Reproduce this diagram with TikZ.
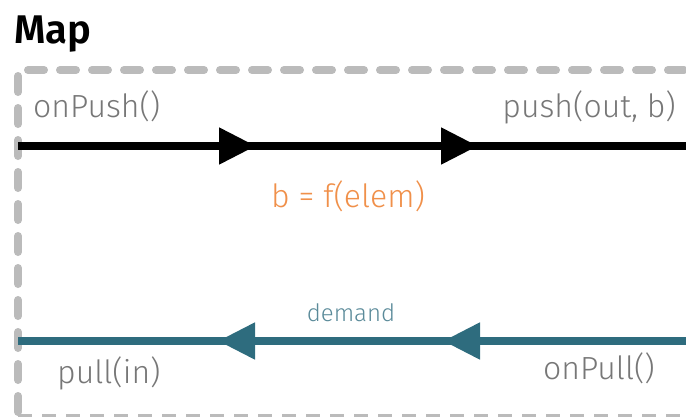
\documentclass[tikz,border=0pt]{standalone}
\usepackage{fontspec}
\setmainfont{Fira Sans}[UprightFont={* Light}, BoldFont={* SemiBold}]
\usetikzlibrary{arrows.meta}
\definecolor{boxgray}{HTML}{BBBBBB}
\definecolor{labelgray}{HTML}{777777}
\definecolor{pullteal}{HTML}{2E6C7E}
\definecolor{demandteal}{HTML}{5A8A99}
\definecolor{funcorange}{HTML}{F0904A}
\tikzset{
  label/.style={text=labelgray, font=\fontsize{32}{32}\selectfont, inner sep=0pt},
  pushline/.style={line width=8pt, black},
  pullline/.style={line width=8pt, pullteal},
  headpush/.style={-{Triangle[length=37pt,width=35pt]}},
}
\begin{document}
\begin{tikzpicture}[x=1pt, y=-1pt]
            \useasboundingbox (0,0) rectangle (686,416);
            \clip (0,0) rectangle (686,416);
            % Box
            \draw[boxgray, line width=8pt, line cap=round, dash pattern=on 16pt off 16pt]
                (18,412) -- (18,70) -- (700,70);
            \draw[boxgray, line width=4pt, dash pattern=on 14pt off 10pt]
                (18,416) -- (700,416);
            \node[anchor=base west, inner sep=0pt, font=\fontsize{40}{40}\selectfont\bfseries] (title) at (14,43) {Map};

            % Nodes
            \coordinate (pushIn) at (18,146);
            \coordinate (pushA) at (256,146);
            \coordinate (pushB) at (478,146);
            \coordinate (pushOut) at (690,146);
            \coordinate (pullOut) at (690,341);
            \coordinate (pullB) at (443,341);
            \coordinate (pullA) at (218,341);
            \coordinate (pullIn) at (18,341);
            \node[label, anchor=base west] (onPush) at (33,117) {onPush()};
            \node[label, anchor=base east] (push) at (676,117) {push(out, b)};
            \node[label, anchor=base, text=funcorange] (func) at (348,207) {b = f(elem)};
            \node[label, anchor=base, text=demandteal, font=\fontsize{24}{24}\selectfont] (demand) at (351,321) {demand};
            \node[label, anchor=base west] (pull) at (57,383) {pull(in)};
            \node[label, anchor=base east] (onPull) at (655,379) {onPull()};

            % Edges
            \draw[pushline] (pushIn) -- (pushOut);
            \draw[pushline, headpush] (pushIn) -- (pushA);
            \draw[pushline, headpush] (pushA) -- (pushB);
            \draw[pullline] (pullOut) -- (pullIn);
            \draw[pullline, headpush] (pullOut) -- (pullB);
            \draw[pullline, headpush] (pullB) -- (pullA);
        \end{tikzpicture}
\end{document}
